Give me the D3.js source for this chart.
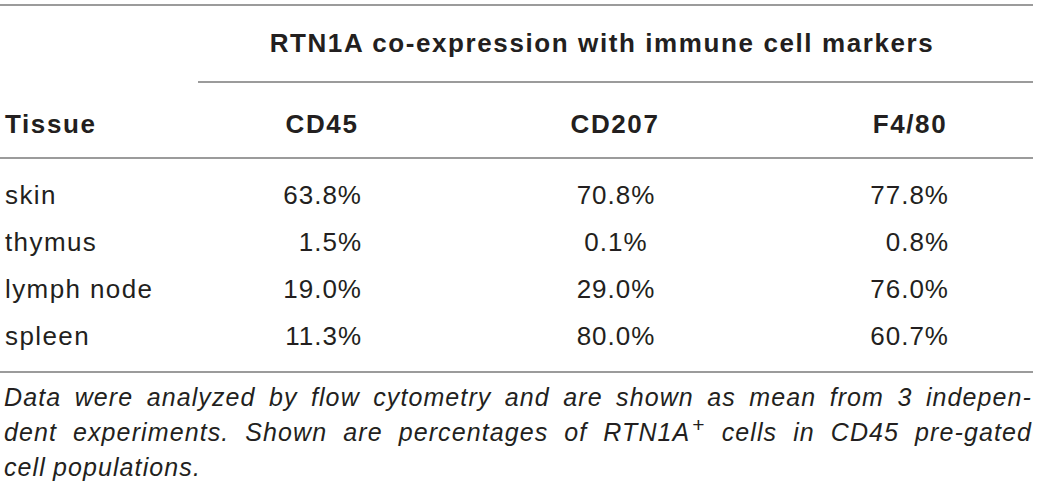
<!DOCTYPE html>
<html>
<head>
<meta charset="utf-8">
<script src="https://cdn.jsdelivr.net/npm/d3@7"></script>
<style>
  html,body{margin:0;padding:0;background:#fff;}
  svg text{font-family:"Liberation Sans",Arial,Helvetica,sans-serif;fill:#231f20;}
  .hd{font-weight:bold;font-size:26px;letter-spacing:1.6px;}
  .cell{font-size:26px;letter-spacing:1.4px;}
  .num{letter-spacing:1px;}
  .note{font-style:italic;font-size:25px;letter-spacing:1.1px;}
</style>
</head>
<body>
<svg id="tbl"></svg>
<script>
'use strict';
// table content
const tissues=['skin','thymus','lymph node','spleen'];
const markers=['CD45','CD207','F4/80'];
const cd45=[63.8,1.5,19.0,11.3];
const cd207=[70.8,0.1,29.0,80.0];
const f480=[77.8,0.8,76.0,60.7];
const groupTitle='RTN1A co-expression with immune cell markers';
const firstHeader='Tissue';
// footnote lines; "^" marks a superscript part of a word
const noteLines=[
  'Data were analyzed by flow cytometry and are shown as mean from 3 indepen-',
  'dent experiments. Shown are percentages of RTN1A^+ cells in CD45 pre-gated',
  'cell populations.'
];

const W=1040,H=495;
const svg=d3.select('#tbl').attr('width',W).attr('height',H);
const fmt=d3.format('.1f');
const cols=[cd45,cd207,f480];

// column layout: header centre, value anchor + x
const colLayout=[
  {hx:322,vx:362,anchor:'end'},
  {hx:615,vx:616,anchor:'middle'},
  {hx:910,vx:949,anchor:'end'}
];
const y=d3.scalePoint().domain(tissues).range([204,345]);

// rules
const rules=[{x1:0,x2:1033,y:5},{x1:198,x2:1033,y:82},{x1:0,x2:1033,y:158},{x1:0,x2:1033,y:372}];
svg.selectAll('.rule').data(rules).join('line').attr('class','rule')
  .attr('x1',d=>d.x1).attr('x2',d=>d.x2).attr('y1',d=>d.y).attr('y2',d=>d.y)
  .attr('stroke','#7a7a7a').attr('stroke-width',1.4);

// headers
svg.append('text').attr('class','hd').attr('x',602).attr('y',52).attr('text-anchor','middle').text(groupTitle);
svg.append('text').attr('class','hd').attr('x',5).attr('y',133).text(firstHeader);
svg.selectAll('.mk').data(markers).join('text').attr('class','hd mk')
  .attr('x',(d,i)=>colLayout[i].hx).attr('y',133).attr('text-anchor','middle').text(d=>d);

// body
svg.selectAll('.tis').data(tissues).join('text').attr('class','cell tis')
  .attr('x',5).attr('y',d=>y(d)).text(d=>d);
cols.forEach((vals,ci)=>{
  svg.selectAll('.v'+ci).data(vals).join('text').attr('class','cell num v'+ci)
    .attr('x',colLayout[ci].vx).attr('y',(d,i)=>y(tissues[i]))
    .attr('text-anchor',colLayout[ci].anchor).text(d=>fmt(d)+'%');
});

// footnote, justified like the source
const noteY=[406,441,476], left=4, right=1032;
noteLines.forEach((line,li)=>{
  const words=line.split(' ');
  const g=svg.append('g');
  const nodes=words.map(w=>{
    const t=g.append('text').attr('class','note').attr('y',noteY[li]);
    w.split('^').forEach((seg,si)=>{
      if(si===0) t.append('tspan').text(seg);
      else t.append('tspan').attr('dx',2).attr('dy',-9)
        .style('font-size','21px').style('font-style','normal').text(seg);
    });
    return t;
  });
  const widths=nodes.map(n=>n.node().getComputedTextLength()+(n.selectAll('tspan').size()>1?2:0));
  const last=li===noteLines.length-1;
  const total=d3.sum(widths);
  const gap=last?7:(right-left-total)/(words.length-1);
  let x=left;
  nodes.forEach((n,i)=>{n.attr('x',x); x+=widths[i]+gap;});
});
</script>
</body>
</html>
